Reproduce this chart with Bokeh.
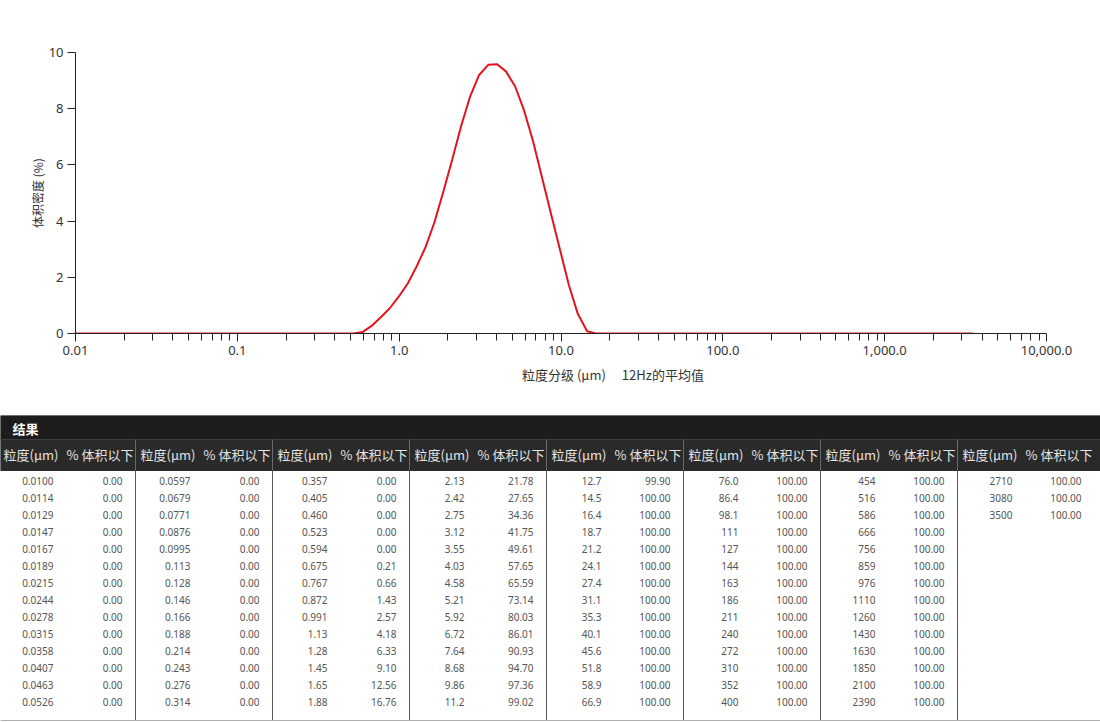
from bokeh.plotting import figure
from bokeh.models import Range1d, FixedTicker, CustomJSTickFormatter
from bokeh.layouts import column
from bokeh.embed import file_html
from bokeh.resources import INLINE
from bokeh.core.properties import value

# ---------------- data ----------------
size_labels = [
    "0.0100", "0.0114", "0.0129", "0.0147", "0.0167", "0.0189", "0.0215", "0.0244", "0.0278", "0.0315", "0.0358", "0.0407", "0.0463", "0.0526",
    "0.0597", "0.0679", "0.0771", "0.0876", "0.0995", "0.113", "0.128", "0.146", "0.166", "0.188", "0.214", "0.243", "0.276", "0.314",
    "0.357", "0.405", "0.460", "0.523", "0.594", "0.675", "0.767", "0.872", "0.991", "1.13", "1.28", "1.45", "1.65", "1.88",
    "2.13", "2.42", "2.75", "3.12", "3.55", "4.03", "4.58", "5.21", "5.92", "6.72", "7.64", "8.68", "9.86", "11.2",
    "12.7", "14.5", "16.4", "18.7", "21.2", "24.1", "27.4", "31.1", "35.3", "40.1", "45.6", "51.8", "58.9", "66.9",
    "76.0", "86.4", "98.1", "111", "127", "144", "163", "186", "211", "240", "272", "310", "352", "400",
    "454", "516", "586", "666", "756", "859", "976", "1110", "1260", "1430", "1630", "1850", "2100", "2390",
    "2710", "3080", "3500",
]

cum_below = [
    0.00, 0.00, 0.00, 0.00, 0.00, 0.00, 0.00, 0.00, 0.00, 0.00, 0.00, 0.00, 0.00, 0.00,
    0.00, 0.00, 0.00, 0.00, 0.00, 0.00, 0.00, 0.00, 0.00, 0.00, 0.00, 0.00, 0.00, 0.00,
    0.00, 0.00, 0.00, 0.00, 0.00, 0.21, 0.66, 1.43, 2.57, 4.18, 6.33, 9.10, 12.56, 16.76,
    21.78, 27.65, 34.36, 41.75, 49.61, 57.65, 65.59, 73.14, 80.03, 86.01, 90.93, 94.70, 97.36, 99.02,
    99.90, 100.00, 100.00, 100.00, 100.00, 100.00, 100.00, 100.00, 100.00, 100.00, 100.00, 100.00, 100.00, 100.00,
    100.00, 100.00, 100.00, 100.00, 100.00, 100.00, 100.00, 100.00, 100.00, 100.00, 100.00, 100.00, 100.00, 100.00,
    100.00, 100.00, 100.00, 100.00, 100.00, 100.00, 100.00, 100.00, 100.00, 100.00, 100.00, 100.00, 100.00, 100.00,
    100.00, 100.00, 100.00,
]

# volume density (%) at each size class
density = [
    0, 0, 0, 0, 0, 0, 0, 0, 0, 0, 0, 0, 0, 0,
    0, 0, 0, 0, 0, 0, 0, 0, 0, 0, 0, 0, 0, 0,
    0, 0, 0, 0, 0.05, 0.27, 0.57, 0.89, 1.30, 1.78, 2.38, 3.05, 3.95, 5.07,
    6.20, 7.40, 8.45, 9.20, 9.56, 9.58, 9.32, 8.79, 7.93, 6.84, 5.54, 4.25, 2.98, 1.71,
    0.70, 0.08, 0, 0, 0, 0, 0, 0, 0, 0, 0, 0, 0, 0,
    0, 0, 0, 0, 0, 0, 0, 0, 0, 0, 0, 0, 0, 0,
    0, 0, 0, 0, 0, 0, 0, 0, 0, 0, 0, 0, 0, 0,
    0, 0, 0,
]

sizes = [float(s) for s in size_labels]

x_major = [0.01, 0.1, 1, 10, 100, 1000, 10000]
y_major = [0, 2, 4, 6, 8, 10]

x_title = "粒度分级 (µm)"
x_note = "12Hz的平均值"
y_title = "体积密度 (%)"
table_title = "结果"
col_head_size = "粒度(µm)"
col_head_pct = "% 体积以下"

# ---------------- chart ----------------
W = 1100
CH = 415
p = figure(width=W, height=CH, x_axis_type="log",
           x_range=Range1d(0.01, 10000), y_range=Range1d(0, 10),
           output_backend="svg", toolbar_location=None,
           min_border_left=75, min_border_right=54, min_border_top=52, min_border_bottom=82)
p.frame_align = False
p.outline_line_color = None
p.grid.visible = False

p.line(sizes, density, line_color="#e3141d", line_width=2)

minor = [m * 10.0 ** k for k in range(-2, 4) for m in range(2, 10)]
p.xaxis.ticker = FixedTicker(ticks=x_major, minor_ticks=minor)
p.xaxis.formatter = CustomJSTickFormatter(code="""
const v = Number(tick.toPrecision(6));
if (v < 1) return v.toString();
return v.toLocaleString('en-US', {minimumFractionDigits: 1, maximumFractionDigits: 1});
""")
p.yaxis.ticker = FixedTicker(ticks=y_major)

for ax in (p.xaxis[0], p.yaxis[0]):
    ax.axis_line_color = "#222222"
    ax.major_tick_line_color = "#222222"
    ax.minor_tick_line_color = "#222222"
    ax.major_tick_in = 0
    ax.major_tick_out = 8
    ax.minor_tick_in = 0
    ax.minor_tick_out = 7
    ax.major_label_text_font = "Noto Sans"
    ax.major_label_text_font_size = "13px"
    ax.major_label_text_color = "#333333"
    ax.axis_label_text_font = "Noto Sans CJK SC"
    ax.axis_label_text_font_size = "13px"
    ax.axis_label_text_font_style = "normal"
    ax.axis_label_text_color = "#333333"

p.yaxis.axis_label_text_font_size = "12px"
p.yaxis.minor_tick_line_color = None
p.xaxis.major_label_standoff = 4
p.yaxis.major_label_standoff = 4
# the note sits to the right of the centred title on the same line;
# full-width spaces pad the left so the title stays centred under the frame
p.xaxis.axis_label = "\u3000" * 8 + x_title + "\u3000 " + x_note
p.yaxis.axis_label = y_title
p.xaxis.axis_label_standoff = 7
p.yaxis.axis_label_standoff = 0

# ---------------- table ----------------
TH = 722 - CH
t = figure(width=W, height=TH, x_range=Range1d(0, W), y_range=Range1d(TH, 0),
           output_backend="svg", toolbar_location=None, min_border=0,
           x_axis_location=None, y_axis_location=None)
t.frame_align = False
t.outline_line_color = None
t.grid.visible = False

title_h = 24
head_bottom = 55
row0 = 65
row_step = 17
n_rows = 14
group_w = 137
group0 = -2
n_groups = (len(size_labels) + n_rows - 1) // n_rows

t.quad(left=[0], right=[W], top=[0], bottom=[title_h], color="#1d1d1d")
t.quad(left=[0], right=[W], top=[title_h], bottom=[head_bottom], color="#2a2a2a")
t.segment(x0=[0], y0=[title_h], x1=[W], y1=[title_h], line_color="#3e3e3e", line_width=1)

t.text(x=[12], y=[12.5], text=[table_title], text_font=value("Noto Sans CJK SC"),
       text_font_size=value("13px"), text_font_style="bold", text_color="#ffffff",
       text_align="left", text_baseline="middle")

starts = [group0 + group_w * g for g in range(n_groups)]
sep_x = starts[1:]
t.segment(x0=sep_x, y0=[title_h] * len(sep_x), x1=sep_x, y1=[head_bottom] * len(sep_x),
          line_color="#6a6a6a", line_width=1)
t.segment(x0=sep_x, y0=[head_bottom] * len(sep_x), x1=sep_x, y1=[TH - 2] * len(sep_x),
          line_color="#555555", line_width=1)
t.segment(x0=[0], y0=[TH - 2], x1=[W], y1=[TH - 2], line_color="#b0b0b0", line_width=1)

head_y = 38.5
t.text(x=[s + 5 for s in starts], y=[head_y] * n_groups, text=[col_head_size] * n_groups,
       text_font=value("Noto Sans CJK SC"), text_font_size=value("13px"),
       text_color="#e4e4e4", text_align="left", text_baseline="middle")
t.text(x=[s + 135 for s in starts], y=[head_y] * n_groups, text=[col_head_pct] * n_groups,
       text_font=value("Noto Sans CJK SC"), text_font_size=value("13px"),
       text_color="#e4e4e4", text_align="right", text_baseline="middle")

xs_size, xs_pct, ys = [], [], []
for i in range(len(size_labels)):
    g, r = divmod(i, n_rows)
    xs_size.append(starts[g] + 55)
    xs_pct.append(starts[g] + 124)
    ys.append(row0 + row_step * r)
pct_labels = [f"{v:.2f}" for v in cum_below]

t.text(x=xs_size, y=ys, text=size_labels, text_font=value("Noto Sans"),
       text_font_size=value("10px"), text_color="#555555",
       text_align="right", text_baseline="middle")
t.text(x=xs_pct, y=ys, text=pct_labels, text_font=value("Noto Sans"),
       text_font_size=value("10px"), text_color="#555555",
       text_align="right", text_baseline="middle")

layout = column(p, t, spacing=0)
open("out.html", "w").write(file_html(layout, INLINE))
